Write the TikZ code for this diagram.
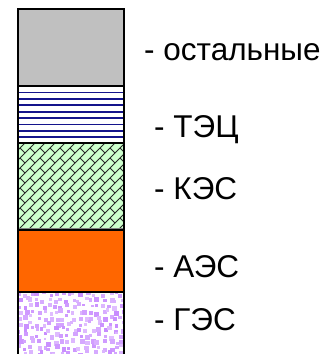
\documentclass[tikz,border=0pt]{standalone}
\usepackage{fontspec}
\setmainfont{Liberation Sans}
\definecolor{grayfill}{RGB}{192,192,192}
\definecolor{orangefill}{RGB}{255,102,0}
\definecolor{greenfill}{RGB}{204,255,204}
\definecolor{navy}{RGB}{20,20,140}
\definecolor{lav}{RGB}{200,140,255}
\begin{document}
\begin{tikzpicture}[x=1pt,y=-1pt,
  lbl/.style={anchor=base west, inner sep=0pt, font=\fontsize{31.5}{36}\selectfont},
  sep/.style={line width=2pt, black}]
\useasboundingbox (0,0) rectangle (325,354);
% gray segment
\fill[grayfill] (18,9) rectangle (124,86);
% striped segment
\fill[white] (18,86) rectangle (124,143);
\foreach \k in {0,...,7} {
  \draw[navy, line width=1.8pt] (18,92.5+6.4*\k) -- (124,92.5+6.4*\k);
}
% green brick segment
\fill[greenfill] (18,143) rectangle (124,229);
\begin{scope}
  \clip (18,143) rectangle (124,229);
  \foreach \i in {0,...,21} {
    \pgfmathsetmacro\c{158+10*\i}
    \draw[black!85, line width=0.9pt] (\c-250,250) -- (\c-120,120);
    \foreach \m in {0,...,14} {
      \pgfmathsetmacro\u{10*\m}
      \draw[black!85, line width=0.9pt] (\u,\c-\u) -- (\u+5,\c-\u+5);
    }
  }
\end{scope}
% orange segment
\fill[orangefill] (18,229) rectangle (124,292);
% lavender confetti segment
\fill[white] (18,292) rectangle (124,354);
\begin{scope}
  \clip (18,292) rectangle (124,354);
  \pgfmathsetseed{7}
  \foreach \i in {0,...,17} {
    \foreach \j in {0,...,10} {
      \pgfmathsetmacro\px{18+6*\i+rand*2.5}
      \pgfmathsetmacro\py{292+6*\j+rand*2.5}
      \pgfmathsetmacro\s{2.8+rnd*2.2}
      \pgfmathsetmacro\o{55+rnd*45}
      \fill[lav!\o!white] (\px,\py) rectangle ++(\s,\s);
    }
  }
\end{scope}
% separators and outline
\draw[sep] (18,86) -- (124,86);
\draw[sep] (18,143) -- (124,143);
\draw[gray, line width=1pt] (18,228) -- (124,228);
\draw[sep] (18,230) -- (124,230);
\draw[sep] (18,292) -- (124,292);
\draw[sep] (18,354) -- (18,9) -- (124,9) -- (124,354);
% labels
\node[lbl] (ost) at (144,60) {- остальные};
\node[lbl] (tec) at (154,137) {- ТЭЦ};
\node[lbl] (kes) at (154,199) {- КЭС};
\node[lbl] (aes) at (154,277) {- АЭС};
\node[lbl] (ges) at (154,330) {- ГЭС};
\end{tikzpicture}
\end{document}
